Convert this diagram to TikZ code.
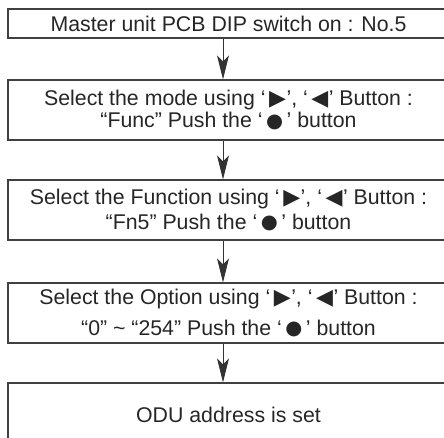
\documentclass[tikz,border=0pt]{standalone}
\usepackage{fontspec}
\setmainfont{Liberation Sans}
\newfontfamily\symfont{DejaVu Sans}
\usetikzlibrary{arrows.meta}

\newcommand{\tasto}[1]{\,{\symfont\fontsize{22}{22}\selectfont #1}\hspace{0.5pt}}
\newcommand{\pallino}{\,\raisebox{0.8pt}{\symfont\fontsize{19.5}{19.5}\selectfont ●}\,}

\begin{document}
\begin{tikzpicture}[x=1pt, y=1pt, font=\fontsize{21.3}{25}\selectfont,
    >={Stealth[length=24pt, width=12pt, inset=6pt]},
    passo/.style={draw=black!75, line width=1.2pt, minimum width=441pt, inner sep=0pt, align=center, text=black!85},
    freccia/.style={->, line width=0.9pt, draw=black!80}]

\useasboundingbox (0,0) rectangle (444,-438);

% Blocchi
\node[passo, minimum height=29pt] (b1) at (228.5,-23.5) {Master unit PCB DIP switch on : No.5};
\node[passo, minimum height=60pt] (b2) at (228.5,-110) {Select the mode using ‘\tasto{▶}’, ‘\tasto{◀}’ Button :\\[-3pt] “Func” Push the ‘\pallino’ button};
\node[passo, minimum height=60pt] (b3) at (228.5,-210) {Select the Function using ‘\tasto{▶}’, ‘\tasto{◀}’ Button :\\ “Fn5” Push the ‘\pallino’ button};
\node[passo, minimum height=60pt] (b4) at (228.5,-313) {Select the Option using ‘\tasto{▶}’, ‘\tasto{◀}’ Button :\\[6pt] “0” \textasciitilde{} “254” Push the ‘\pallino’ button};
\node[passo, minimum height=64pt] (b5) at (228.5,-415) {ODU address is set};

% Frecce
\coordinate (ax) at (223,0);
\draw[freccia] (b1.south -| ax) -- (b2.north -| ax);
\draw[freccia] (b2.south -| ax) -- (b3.north -| ax);
\draw[freccia] (b3.south -| ax) -- (b4.north -| ax);
\draw[freccia] (b4.south -| ax) -- (b5.north -| ax);

\end{tikzpicture}
\end{document}
